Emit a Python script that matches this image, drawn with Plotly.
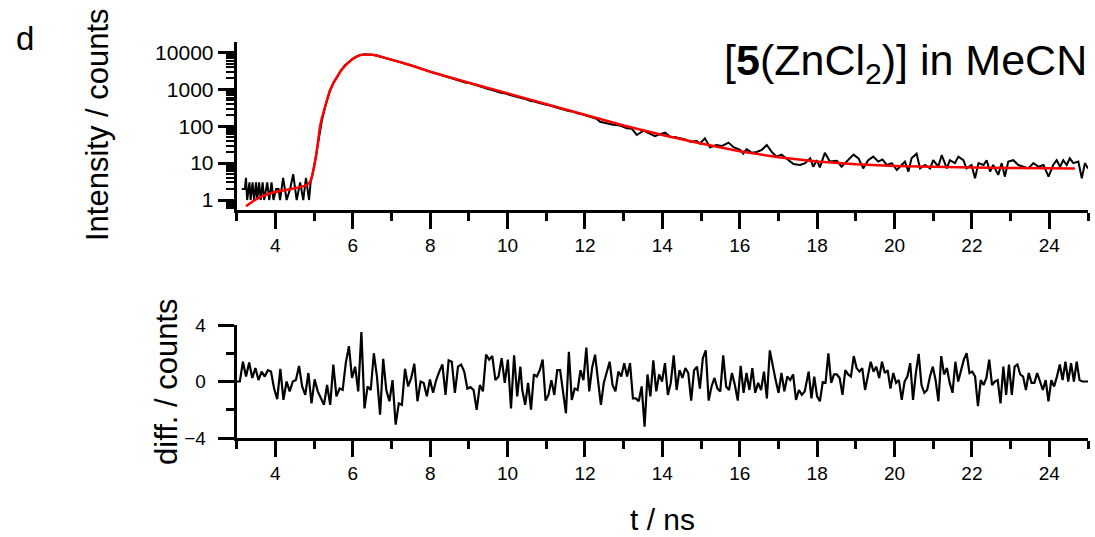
import numpy as np
import plotly.graph_objects as go

# ---------------- data ----------------
# decay trace (black), early channels before the rise
early_t = [3.13, 3.21, 3.24, 3.27, 3.33, 3.36, 3.41, 3.45, 3.50, 3.53, 3.58, 3.62, 3.67, 3.71,
           3.76, 3.79, 3.84, 3.90, 3.95, 4.02, 4.08, 4.12, 4.20, 4.29, 4.38, 4.46, 4.55, 4.64,
           4.72, 4.79, 4.87, 4.91]
early_counts = [2, 2, 4, 1, 3, 1, 3, 1, 3, 1, 3, 1, 3, 1, 2, 3, 1, 3, 1, 2, 2, 1, 4, 1, 2, 5,
                1, 3, 1, 4, 1, 3]

# rise and main decay, 0.1 ns channels from 5.0 to 12.3 ns
main_t_start, main_t_step = 5.0, 0.1
main_counts = [8, 33, 140, 390, 840, 1500, 2300, 3300, 4500, 5700,
               6800, 7800, 8600, 8900, 8850, 8650, 8300, 7800, 7350, 6900,
               6400, 5900, 5500, 5200, 4800, 4550, 4200, 3900, 3550, 3300,
               3000, 2820, 2580, 2440, 2270, 2060, 1930, 1780, 1640, 1540,
               1500, 1380, 1300, 1180, 1120, 1020, 960, 880, 820, 790,
               740, 700, 640, 610, 560, 530, 480, 470, 430, 400,
               380, 365, 330, 310, 295, 270, 255, 250, 225, 215,
               200, 185, 175, 160]

# tail channels
tail_t = [12.39, 12.56, 12.73, 12.91, 13.08, 13.21, 13.34, 13.51, 13.68, 13.81, 13.94, 14.07,
          14.20, 14.33, 14.46, 14.59, 14.72, 14.89, 14.97, 15.10, 15.23, 15.40, 15.53, 15.71,
          15.84, 16.01, 16.09, 16.18, 16.31, 16.44, 16.57, 16.70, 16.83, 16.95, 17.08, 17.21,
          17.39, 17.56, 17.69, 17.82, 17.90, 17.99, 18.07, 18.20, 18.33, 18.51, 18.63, 18.76,
          18.94, 19.07, 19.19, 19.32, 19.45, 19.58, 19.69, 19.80, 19.93, 20.06, 20.19, 20.27,
          20.36, 20.44, 20.57, 20.66, 20.79, 20.92, 21.00, 21.13, 21.22, 21.35, 21.43, 21.56,
          21.65, 21.78, 21.86, 21.99, 22.08, 22.17, 22.30, 22.38, 22.47, 22.55, 22.68, 22.77,
          22.85, 22.94, 23.07, 23.20, 23.33, 23.46, 23.59, 23.72, 23.85, 23.98, 24.10, 24.19,
          24.28, 24.36, 24.45, 24.53, 24.62, 24.75, 24.84, 24.92, 25.00]
tail_counts = [132, 120, 110, 105, 88, 86, 58, 76, 62, 54, 61, 67,
               52, 51, 47, 44, 38, 40, 34, 47, 27, 31, 29, 36,
               27, 23, 18, 24, 19, 20, 23, 31, 20, 15, 17, 13.5,
               9.5, 8.9, 10, 13.5, 8, 12, 7.7, 19, 11, 11.6, 8, 11,
               17, 13.5, 7.2, 12, 15, 11, 12.6, 8.9, 10, 6.5, 8.9, 11,
               5.9, 13.5, 18, 7.2, 8.9, 7.2, 12, 8, 16.6, 7.2, 12, 10,
               15, 12, 7.2, 8.9, 3.9, 10, 8.9, 12, 5.9, 8.9, 4.8, 10,
               4.3, 11, 12, 8.9, 8, 7.2, 10, 8, 8.9, 4.3, 8.9, 12,
               8, 12, 8.9, 13.5, 10, 11, 3.9, 10, 7.2]

# fitted curve (red)
fit_t = [3.24, 3.4, 3.6, 3.8, 4.0, 4.2, 4.4, 4.6, 4.75, 4.85, 4.9, 4.95, 5.0, 5.05, 5.1,
         5.15, 5.2, 5.3, 5.4, 5.5, 5.6, 5.7, 5.8, 5.9, 6.0, 6.1, 6.2, 6.3, 6.4, 6.5, 6.6,
         6.8, 7.0, 7.5, 8.0, 9.0, 10.0, 11.0, 12.0, 13.0, 14.0, 15.0, 16.0, 17.0, 18.0,
         19.0, 20.0, 21.0, 22.0, 23.0, 24.0, 24.66]
fit_counts = [0.68, 0.9, 1.2, 1.45, 1.65, 1.85, 2.0, 2.2, 2.4, 2.7, 3.2, 4.5, 7.5, 15, 37,
              95, 165, 420, 900, 1500, 2300, 3300, 4400, 5600, 6700, 7700, 8600, 8900, 8900,
              8700, 8400, 7400, 6400, 4500, 3000, 1520, 770, 390, 200, 105, 58, 34, 21, 14.5,
              11, 9.3, 8.4, 7.9, 7.6, 7.4, 7.25, 7.2]

# weighted residuals, three stretches of channels
res1_span = (3.0, 10.33)
res1 = [0, 0, 1.4, 0.35, 1.35, 0.25, 0.95, 0.1, 0.7, 0.35,
        0.8, 0.7, -0.5, -1.25, 0.9, -1.3, 0, -0.7, 0, 0.1,
        1.1, -0.35, -0.95, 0.6, -1.55, 0.15, -0.7, -1.2, -1.65, -0.25,
        -1.65, 1.2, -1.05, -0.5, -0.6, 1.3, 2.5, 0.25, 1.05, -0.7,
        3.5, -1.9, -0.35, -0.6, 2.0, 0.35, -2.35, 1.6, -0.6, -1.4,
        0.1, -3.05, -1.55, -1.65, 0.9, -0.35, 0.25, 1.25, -1.4, 0,
        -0.1, -1.05, 0.15, -0.8, 0.1, 0.7, 1.2, -0.95, 1.5, 1.4,
        -0.8, 1.05, 1.2, 0.7, -0.5, -0.4, -0.6, -2.0, -0.25, -0.7,
        1.9, 1.55, 1.8, 0.1, 0.35, 1.65, -0.1, 1.55, -1.9, 1.85,
        -1.05, 1.05]
res2_span = (10.38, 17.68)
res2 = [-0.6, -1.65, -0.1, -2.0, 0.5, 0.35, 0.8, 1.55, -1.35, -0.95,
        0.1, -0.95, 0.8, 0.8, -0.95, -2.25, 2.1, -1.3, -0.5, -0.6,
        0.8, 0.1, 2.4, -0.7, 1.0, 1.9, 0.1, -1.65, -0.1, 0.7,
        1.4, -0.25, -0.7, 0.7, 0.35, 1.3, 0.35, 1.3, -1.2, -1.2,
        -1.4, -0.35, -3.2, 0.5, -1.05, 1.5, -0.7, 0.5, 0, 1.3,
        -0.95, -0.1, 1.85, -0.6, 0.8, 0.25, 0.95, 0.6, -1.35, 0.8,
        1.05, -0.5, 1.65, 2.2, -1.35, -0.35, 0.25, -0.5, -0.7, 1.85,
        -0.35, -0.6, 0.6, -0.25, -1.35, 1.1, -0.8, 0.6, -0.6, 0.95,
        -0.8, -0.1, -0.6, 0.7, -1.2, 2.2, 1.05, 0.1, -0.8, 0.6,
        -0.7, 0.35, 0.1, 0.5, -1.3, -0.6, -0.95, -0.7]
res3_span = (17.78, 25.0)
res3 = [0.7, -1.2, 0.35, -1.05, -1.4, -0.05, -0.1, 2.0, -0.1, 0.5,
        0.5, 0.25, -0.95, 0.8, 0.5, 0.35, 1.8, 0.95, 0.7, 0.95,
        -0.6, 0.5, 1.4, 0.7, 1.05, 0.25, 1.4, 0.6, 0.8, -0.5,
        0.6, -0.1, 0.1, -1.3, 0, 0.35, 1.3, -1.3, 0.6, 1.95,
        -0.25, -0.8, -0.6, 0.35, 1.05, 0.1, -1.4, 1.8, 0.5, 0.95,
        -0.1, -0.8, 1.4, 0, 0.8, 1.55, 2.0, 0.6, 0.7, 0.35,
        -1.75, 0.1, -0.25, 0.25, 1.55, -0.25, 0, 0.1, -1.55, 1.05,
        -0.95, 1.2, -0.95, 1.05, 1.2, 0.5, 0.35, -0.6, 0.6, -0.1,
        -0.1, 0.6, 0, -0.6, 0.1, -1.4, 0.1, -0.35, 0.35, 1.2,
        0.1, 1.4, 0, 1.3, 0, 1.4, 0.1, 0, 0, 0]

# axis tick labels
x_major = [4, 6, 8, 10, 12, 14, 16, 18, 20, 22, 24]
x_minor = [3, 5, 7, 9, 11, 13, 15, 17, 19, 21, 23, 25]
y_log_major = [1, 10, 100, 1000, 10000]
y_log_labels = ["1", "10", "100", "1000", "10000"]
y_res_major = [-4, 0, 4]
y_res_minor = [-2, 2]

# ---------------- assemble ----------------
main_t = [round(main_t_start + i * main_t_step, 3) for i in range(len(main_counts))]
data_t = early_t + main_t + tail_t
data_counts = early_counts + main_counts + tail_counts

res_t = np.concatenate([np.linspace(*res1_span, len(res1)),
                        np.linspace(*res2_span, len(res2)),
                        np.linspace(*res3_span, len(res3))])
res_v = res1 + res2 + res3

y_log_minor = [k * 10.0 ** d for d in range(-1, 4) for k in range(2, 10)
               if 0.55 < k * 10.0 ** d < 19000]

FONT = "Arial, 'Liberation Sans', sans-serif"
W, H = 1095, 537

fig = go.Figure()
fig.add_trace(go.Scatter(x=data_t, y=data_counts, mode="lines",
                         line=dict(color="black", width=2), xaxis="x", yaxis="y",
                         showlegend=False))
fig.add_trace(go.Scatter(x=fit_t, y=fit_counts, mode="lines",
                         line=dict(color="#ff0000", width=2.5), xaxis="x", yaxis="y",
                         showlegend=False))
fig.add_trace(go.Scatter(x=res_t, y=res_v, mode="lines",
                         line=dict(color="black", width=2.2), xaxis="x2", yaxis="y2",
                         showlegend=False))

x_dom = [236.7 / W, 1088 / W]
top_dom = [1 - 210 / H, 1 - 42 / H]
bot_dom = [1 - 438 / H, 1 - 325 / H]

common_x = dict(range=[3, 25], domain=x_dom, showline=True, linewidth=3, linecolor="black",
                ticks="outside", tickmode="array", tickvals=x_major, ticklen=16, tickwidth=2.5,
                tickcolor="black", showgrid=False, zeroline=False,
                tickfont=dict(family=FONT, size=19, color="black"),
                minor=dict(tickmode="array", tickvals=x_minor, ticks="outside", ticklen=8,
                           tickwidth=2.5, tickcolor="black", showgrid=False))

fig.update_layout(
    width=W, height=H, margin=dict(l=0, r=0, t=0, b=0, autoexpand=False),
    paper_bgcolor="white", plot_bgcolor="white",
    xaxis=dict(anchor="y", **common_x),
    xaxis2=dict(anchor="y2", **common_x),
    yaxis=dict(type="log", range=[-0.271, 4.285], domain=top_dom, anchor="x",
               showline=True, linewidth=3, linecolor="black", ticks="outside",
               tickmode="array", tickvals=y_log_major, ticktext=y_log_labels,
               ticklen=16, tickwidth=2.5, tickcolor="black", showgrid=False, zeroline=False,
               tickfont=dict(family=FONT, size=21, color="black"),
               minor=dict(tickmode="array", tickvals=y_log_minor, ticks="outside", ticklen=8,
                          tickwidth=2, tickcolor="black", showgrid=False)),
    yaxis2=dict(range=[-4, 4], domain=bot_dom, anchor="x2",
                showline=True, linewidth=3, linecolor="black", ticks="outside",
                tickmode="array", tickvals=y_res_major, ticklen=16, tickwidth=2.5,
                tickcolor="black", showgrid=False, zeroline=False,
                ticklabelstandoff=8,
                tickfont=dict(family=FONT, size=19, color="black"),
                minor=dict(tickmode="array", tickvals=y_res_minor, ticks="outside", ticklen=8,
                           tickwidth=2.5, tickcolor="black", showgrid=False)),
)

ann_font = dict(family=FONT, color="black")
fig.add_annotation(text="Intensity / counts", x=97 / W, y=1 - 125 / H, xref="paper", yref="paper",
                   textangle=-90, showarrow=False, xanchor="center", yanchor="middle",
                   font=dict(size=31, **ann_font))
fig.add_annotation(text="diff. / counts", x=166 / W, y=1 - 382 / H, xref="paper", yref="paper",
                   textangle=-90, showarrow=False, xanchor="center", yanchor="middle",
                   font=dict(size=31, **ann_font))
fig.add_annotation(text="t / ns", x=662 / W, y=1 - 519 / H, xref="paper", yref="paper",
                   showarrow=False, xanchor="center", yanchor="middle",
                   font=dict(size=30, **ann_font))
fig.add_annotation(text="d", x=25 / W, y=1 - 39 / H, xref="paper", yref="paper",
                   showarrow=False, xanchor="center", yanchor="middle",
                   font=dict(size=33, **ann_font))
fig.add_annotation(text="[<b>5</b>(ZnCl<sub>2</sub>)] in MeCN", x=722 / W, y=1 - 63 / H,
                   xref="paper", yref="paper", showarrow=False, xanchor="left",
                   yanchor="middle", font=dict(size=43, **ann_font))

fig.write_html("out.html", config={"displayModeBar": False},
               post_script="document.body.style.margin='0px';")
